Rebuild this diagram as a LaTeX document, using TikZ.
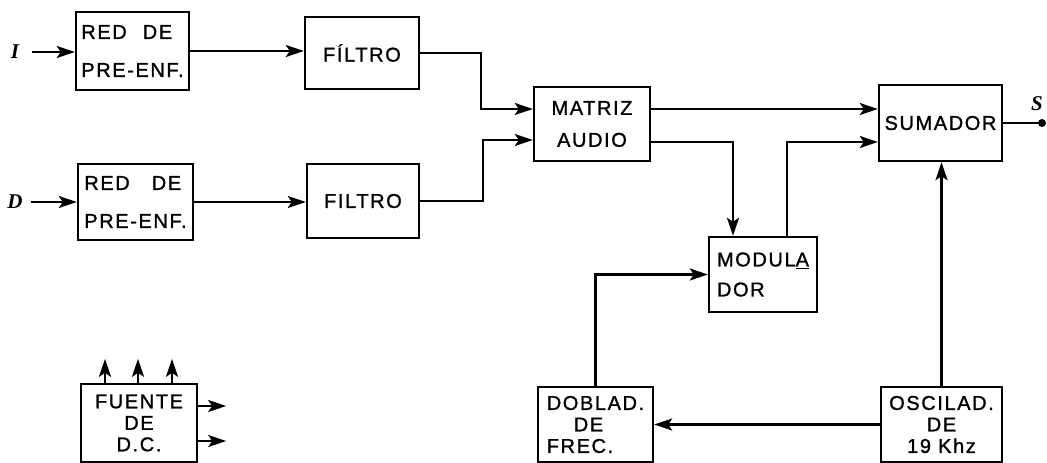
\documentclass[tikz,border=0pt]{standalone}
\usepackage{fontspec}
\setmainfont{Liberation Sans}
\newfontfamily\lett[LetterSpace=8,FakeBold=1.2]{Liberation Sans}
\newfontfamily\sigf{Liberation Serif}
\usetikzlibrary{arrows.meta,calc}
\begin{document}
\begin{tikzpicture}[x=1pt,y=-1pt,
  box/.style={draw,line width=2.4pt,inner sep=0pt},
  redbox/.style={box,align=left,font=\lett\fontsize{20}{38}\selectfont},
  fbox/.style={box,font=\lett\fontsize{20}{21}\selectfont},
  two/.style={box,font=\lett\fontsize{20}{32}\selectfont},
  three/.style={box,font=\lett\fontsize{20}{21.5}\selectfont},
  arr/.style={line width=2.4pt,-{Stealth[length=18pt,width=12pt,inset=4pt]}},
  ln/.style={line width=2.4pt},
  sig/.style={font=\sigf\bfseries\itshape\fontsize{21}{22}\selectfont}]
\useasboundingbox[fill=white] (0,0) rectangle (1047,463);

% boxes
\node[redbox,minimum width=113pt,minimum height=78pt] (red1) at (132.5,51) {RED\hspace{0.8em}DE\\PRE-ENF.};
\node[fbox,minimum width=114pt,minimum height=72pt] (fil1) at (362,53) {FÍLTRO};
\node[redbox,minimum width=115pt,minimum height=76pt] (red2) at (135.5,202) {RED\hspace{1.1em}DE\\PRE-ENF.};
\node[fbox,minimum width=112pt,minimum height=74pt] (fil2) at (363,201) {FILTRO};
\node[two,align=center,minimum width=116pt,minimum height=74pt] (mat) at (592,124) {MATRIZ\\AUDIO};
\node[fbox,minimum width=123pt,minimum height=76pt] (sum) at (940.5,123) {SUMADOR};
\node[two,align=left,font=\lett\fontsize{20}{30}\selectfont,minimum width=108pt,minimum height=75pt] (mod) at (763,274.5) {MODUL\underline{A}\\DOR};
\node[three,align=left,minimum width=115pt,minimum height=75pt] (dob) at (595.5,424.5) {DOBLAD.\\\hspace*{1.35em}DE\\FREC.};
\node[three,align=center,minimum width=121pt,minimum height=75pt] (osc) at (941.5,424.5) {OSCILAD.\\DE\\19 Khz};
\node[three,align=center,minimum width=116pt,minimum height=78pt] (fue) at (139,423) {FUENTE\\DE\\D.C.};

% signal labels
\node[sig] (lI) at (15,52) {I};
\node[sig] (lD) at (15,202) {D};
\node[sig] (lS) at (1037,104) {S};
\coordinate (out) at (1042,123);

% connectors
\draw[arr] ([xshift=9pt]lI.east) -- (lI.east -| red1.west);
\draw[arr] ([xshift=5pt]lD.east) -- (lD.east -| red2.west);
\draw[arr] (red1.east) -- (red1.east -| fil1.west);
\draw[arr] (red2.east) -- (red2.east -| fil2.west);
\draw[arr] (fil1.east) -- ++(61,0) |- ($(mat.west)+(0,-15)$);
\draw[arr] (fil2.east) -- ++(63,0) |- ($(mat.west)+(0,16)$);
\draw[arr] ($(mat.east)+(0,-15)$) -- ($(sum.west)+(0,-14)$);
\draw[arr] ($(mat.east)+(0,18)$) -| ($(mod.north)+(-30,0)$);
\draw[arr] ($(mod.north)+(24,0)$) |- ($(sum.west)+(0,19)$);
\draw[ln] (sum.east) -- (out);
\fill (out) circle (4pt);
\draw[arr] (osc.north) -- (osc.north |- sum.south);
\draw[arr] (osc.west) -- (osc.west -| dob.east);
\draw[arr] (dob.north) |- (mod.west);

% power supply outputs
\foreach \dx/\nm in {-34/a,-1/b,33/c}{
  \coordinate (up\nm) at ($(fue.north)+(\dx,-24)$);
  \draw[arr] ($(fue.north)+(\dx,0)$) -- (up\nm);
}
\foreach \dy/\nm in {-17/a,18/b}{
  \coordinate (rt\nm) at ($(fue.east)+(28,\dy)$);
  \draw[arr] ($(fue.east)+(0,\dy)$) -- (rt\nm);
}
\end{tikzpicture}
\end{document}
